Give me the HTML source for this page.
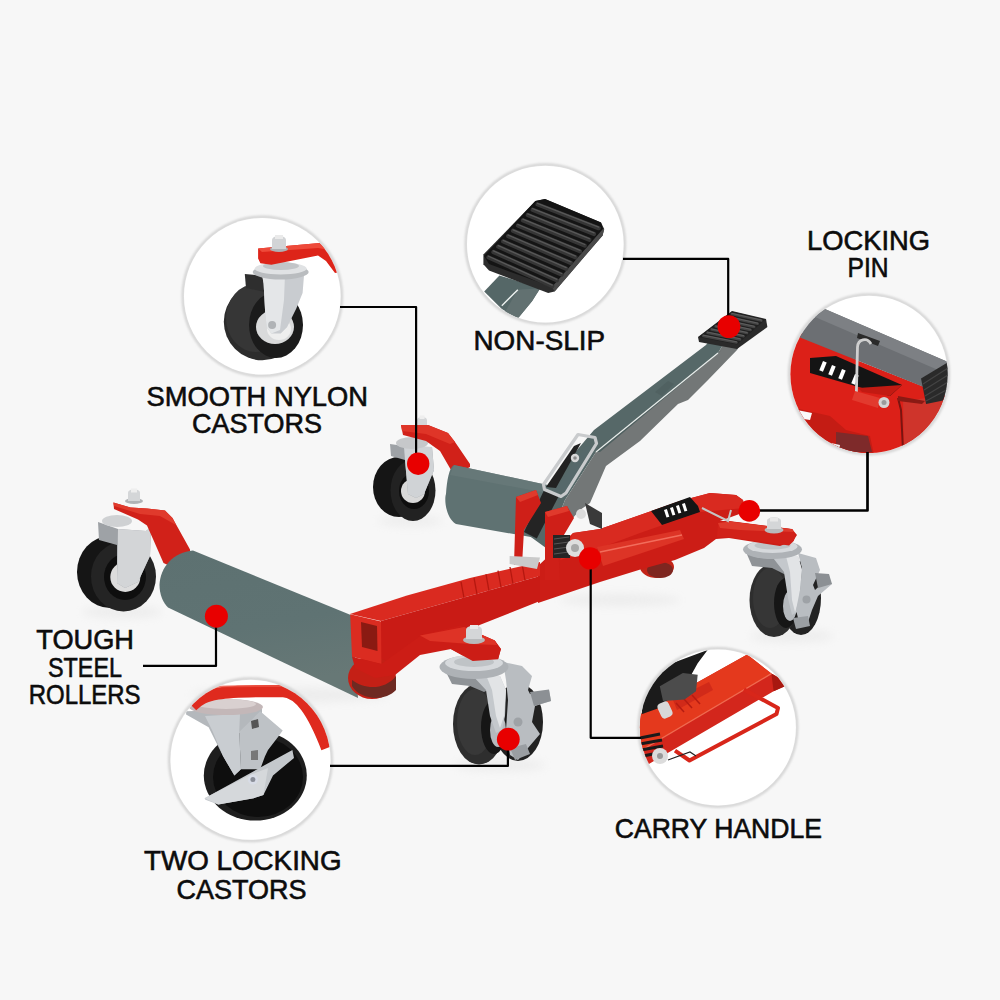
<!DOCTYPE html>
<html><head><meta charset="utf-8">
<style>
html,body{margin:0;padding:0;background:#f7f7f7;}
body{width:1000px;height:1000px;position:relative;overflow:hidden;font-family:"Liberation Sans",sans-serif;}
svg{position:absolute;left:0;top:0;}
</style></head><body>
<svg width="1000" height="1000" viewBox="0 0 1000 1000">
<defs>
<filter id="bl1" x="-20%" y="-20%" width="140%" height="140%"><feGaussianBlur stdDeviation="1.2"/></filter>
<filter id="sh" x="-20%" y="-20%" width="140%" height="140%"><feGaussianBlur stdDeviation="3"/></filter>
<filter id="bl2" x="-30%" y="-30%" width="160%" height="160%"><feGaussianBlur stdDeviation="2"/></filter>
<filter id="bl5" x="-50%" y="-50%" width="200%" height="200%"><feGaussianBlur stdDeviation="5"/></filter>
<clipPath id="c1"><circle cx="262.3" cy="296.3" r="78.3"/></clipPath>
<clipPath id="c2"><circle cx="545.3" cy="244.1" r="78.3"/></clipPath>
<clipPath id="c3"><circle cx="869" cy="374.3" r="78.6"/></clipPath>
<clipPath id="c4"><circle cx="250.5" cy="759.8" r="80"/></clipPath>
<clipPath id="c5"><circle cx="717.9" cy="727.5" r="78"/></clipPath>
<linearGradient id="rollF" x1="0" y1="0" x2="0.25" y2="1">
<stop offset="0" stop-color="#5d7171"/><stop offset="0.6" stop-color="#5f7373"/><stop offset="1" stop-color="#677876"/>
</linearGradient>
</defs>

<!-- ========== PRODUCT ========== -->
<g id="product">
<!-- ground shadows -->
<g fill="#d8d8d8" filter="url(#bl5)" opacity="0.35">
<ellipse cx="122" cy="612" rx="40" ry="6"/>
<ellipse cx="410" cy="521" rx="32" ry="5"/>
<ellipse cx="792" cy="636" rx="42" ry="6"/>
<ellipse cx="500" cy="765" rx="45" ry="6"/>
<ellipse cx="290" cy="695" rx="100" ry="7"/>
<ellipse cx="620" cy="600" rx="60" ry="6"/>
</g>

<!-- back-left castor -->
<g>
<ellipse cx="399" cy="487" rx="26" ry="30" fill="#151515"/>
<ellipse cx="413" cy="490.5" rx="22.5" ry="30.5" fill="#222"/>
<ellipse cx="414" cy="491" rx="15" ry="18" fill="#0e0e0e"/>
<circle cx="413" cy="491" r="12" fill="#d8d8d8"/>
<circle cx="413" cy="491" r="2.5" fill="#999"/>
<polygon points="390,444 404,446 432,447 434,470 424,494 416,498 408,494 405,460 391,456" fill="#9ea2a6"/>
<polygon points="404,447 432,447 434,470 424,494 416,498 408,494 405,460" fill="#d0d3d6"/>
<ellipse cx="412" cy="443" rx="16" ry="6" fill="#c6c8ca"/>
<ellipse cx="422" cy="427" rx="7.5" ry="2.5" fill="#b0b3b6"/><path d="M417,427 L417,420 C417,416 427,416 427,420 L427,427 Z" fill="#d4d6d8"/><rect x="419.5" y="415.5" width="5" height="3.5" fill="#eeeeee"/>
<polygon points="401,425 428,425 448,433 455,442 470,464 470,467 455,475 451,470 440,451 426,441 403,435" fill="#d12119"/>
<polygon points="401,425 428,425 448,433 455,442 450,444 426,434 402,431" fill="#df3528"/>
</g>

<!-- back roller -->
<path d="M454,465 L552,486 L548,540 L456,524 C446,518 444,500 446,494 C447,480 449,468 454,465 Z" fill="#5f7272"/>
<path d="M454,465 L552,486 L552,494 L450,475 Z" fill="#6a7b7b" opacity="0.7"/>

<!-- right castor (locking) -->
<g>
<ellipse cx="801" cy="598" rx="20" ry="37" fill="#222"/>
<ellipse cx="774" cy="600" rx="24.5" ry="37" fill="#2e2e2e"/>
<ellipse cx="770" cy="598" rx="17" ry="30" fill="#363636"/>
<ellipse cx="786" cy="603" rx="12" ry="25" fill="#161616"/>
<ellipse cx="790" cy="606" rx="7" ry="15" fill="#b5b9bd"/>
<polygon points="746,552 770,556 786,558 790,572 786,575 772,568 752,566" fill="#8f9397"/>
<polygon points="770,554 798,556 802,570 800,600 797,612 792,615 788,598 784,572" fill="#c4c8cc"/>
<polygon points="786,556 798,556 802,570 799,600 795,612 792,600 790,572" fill="#e2e4e6"/>
<polygon points="798,553 816,558 820,570 813,585 815,590 828,578 832,584 818,596 812,610 808,622 800,626 796,610 800,590 802,568" fill="#b9bdc1"/>
<polygon points="815,573 829,574 832,584 818,588" fill="#8c9094"/>
<polygon points="793,618 808,616 810,626 796,629" fill="#9a9ea2"/>
<circle cx="806.5" cy="599.5" r="4" fill="#9ea2a6"/>
<ellipse cx="772.5" cy="549.5" rx="29.5" ry="9.5" fill="#aeb2b6"/>
<ellipse cx="772.5" cy="546.5" rx="25" ry="6.5" fill="#d6d9dc"/>
<ellipse cx="772.5" cy="545.5" rx="18" ry="4" fill="#bfc3c6"/>
</g>

<!-- rear roller end under frame -->
<ellipse cx="657" cy="567" rx="17" ry="11" fill="#c42418"/>
<ellipse cx="660" cy="570" rx="13" ry="8" fill="#7e2620"/>

<!-- red body: beam + sleeve + rear crossbar -->
<g>
<!-- sleeve + rear body base -->
<polygon points="538,566 573,533 600,529 680,501 710,493 736,495 743,500 745,512 720,521 729,521 792,529 797,535 793,541 780,546 729,538 716,539 704,548 675,560 642,569 600,582 538,603" fill="#cc1d16"/>
<!-- sleeve top face -->
<polygon points="573,533 600,529 680,501 710,493 736,495 743,500 745,508 700,512 640,533 600,548 560,560" fill="#d92a20"/>
<!-- carry handle bar -->
<polygon points="597,547 680,530 684,539 603,566" fill="#dd3426"/>
<line x1="600" y1="552" x2="682" y2="535" stroke="#f26d5c" stroke-width="1.5"/>
<!-- castor plate -->
<polygon points="718,523 730,521.5 792.4,529.3 795.7,535.8 793.7,541 789,545.5 730,537.5 717,537" fill="#d12119"/>
<polygon points="718,523 730,521.5 792.4,529.3 794,532 740,530 720,528" fill="#df3a2c"/>
<!-- beam top face -->
<polygon points="350,614 407,595.6 470,578 540,562 540,576 381,621" fill="#da2a20"/>
<g stroke="#b5180f" stroke-width="1.3"><line x1="461" y1="581.7" x2="464" y2="597.9"/><line x1="474" y1="577.8" x2="477" y2="594.2"/><line x1="486" y1="574.2" x2="489" y2="590.8"/><line x1="498" y1="570.6" x2="501" y2="587.4"/><line x1="510" y1="567.0" x2="513" y2="584.0"/><line x1="522" y1="563.4" x2="525" y2="580.6"/></g>
<!-- beam front face -->
<polygon points="381,621 540,576 540,601 381,664" fill="#c91b15"/>
<!-- T-REX label -->
<polygon points="651,511 690,497 698,506 700,512 662,525" fill="#151515"/>
<g fill="#fff"><rect x="664" y="510" width="3" height="8" transform="rotate(-18 664 510)"/><rect x="670" y="508" width="3" height="8" transform="rotate(-18 670 508)"/><rect x="676" y="506" width="3" height="8" transform="rotate(-18 676 506)"/><rect x="682" y="504" width="3" height="8" transform="rotate(-18 682 504)"/></g>
<ellipse cx="774" cy="530" rx="9.5" ry="3.5" fill="#b8babc"/><path d="M767,529 L767,521 C767,516 781,516 781,521 L781,529 Z" fill="#d4d6d8"/><rect x="770" y="517.5" width="8" height="4" fill="#e8e8e8"/>
<path d="M702,508 L728,521 L731,510" fill="none" stroke="#c4c4c4" stroke-width="2"/>
</g>

<!-- handle arm -->
<g>
<polygon points="712,337 724,343 718,353 596,452 565,500 546,548 524,532 545,488 594,430 706,345" fill="#566868"/>
<polygon points="724,343 742,342 737,350 708,380 688,400 678,404 640,441 606,466 590,503 580,510 546,548 565,500 596,452 718,353" fill="#737777"/>
<polygon points="718,353 722,350 600,452 596,452" fill="#4e5f5f"/>
<polyline points="718,353 596,452" stroke="#e8ecea" stroke-width="1.2" fill="none"/>
<polygon points="655,392 668,381 674,384 662,396" fill="#4e5e5e" opacity="0.7"/>
</g>
<!-- pedal -->
<g>
<polygon points="698,337 732,311 766,319 767.4,327 737,349 699,342" fill="#2a2a2a"/>
<polygon points="698.5,337 732,311.5 765.5,319.5 737,344.5" fill="#202020"/>
<line x1="731.9" y1="314.0" x2="761.3" y2="320.6" stroke="#444444" stroke-width="2.6" stroke-linecap="round"/>
<line x1="731.9" y1="313.4" x2="761.3" y2="320.0" stroke="#666666" stroke-width="0.78" stroke-linecap="round"/>
<line x1="727.8" y1="317.1" x2="757.7" y2="323.7" stroke="#444444" stroke-width="2.6" stroke-linecap="round"/>
<line x1="727.8" y1="316.5" x2="757.7" y2="323.1" stroke="#666666" stroke-width="0.78" stroke-linecap="round"/>
<line x1="723.8" y1="320.3" x2="754.2" y2="326.9" stroke="#444444" stroke-width="2.6" stroke-linecap="round"/>
<line x1="723.8" y1="319.6" x2="754.2" y2="326.2" stroke="#666666" stroke-width="0.78" stroke-linecap="round"/>
<line x1="719.7" y1="323.4" x2="750.6" y2="330.0" stroke="#444444" stroke-width="2.6" stroke-linecap="round"/>
<line x1="719.7" y1="322.7" x2="750.6" y2="329.3" stroke="#666666" stroke-width="0.78" stroke-linecap="round"/>
<line x1="715.6" y1="326.5" x2="747.1" y2="333.1" stroke="#444444" stroke-width="2.6" stroke-linecap="round"/>
<line x1="715.6" y1="325.9" x2="747.1" y2="332.5" stroke="#666666" stroke-width="0.78" stroke-linecap="round"/>
<line x1="711.5" y1="329.6" x2="743.6" y2="336.2" stroke="#444444" stroke-width="2.6" stroke-linecap="round"/>
<line x1="711.5" y1="329.0" x2="743.6" y2="335.6" stroke="#666666" stroke-width="0.78" stroke-linecap="round"/>
<line x1="707.4" y1="332.8" x2="740.0" y2="339.4" stroke="#444444" stroke-width="2.6" stroke-linecap="round"/>
<line x1="707.4" y1="332.1" x2="740.0" y2="338.7" stroke="#666666" stroke-width="0.78" stroke-linecap="round"/>
<line x1="703.3" y1="335.9" x2="736.5" y2="342.5" stroke="#444444" stroke-width="2.6" stroke-linecap="round"/>
<line x1="703.3" y1="335.2" x2="736.5" y2="341.8" stroke="#666666" stroke-width="0.78" stroke-linecap="round"/>
</g>

<!-- pivot -->
<g>
<polygon points="544.8,488.8 559.2,495.2 536.8,538.4 524,532" fill="#242424"/>
<polygon points="552,492 562,480 585,447 592,446 566,492" fill="#56686a"/>
<polygon points="546,487 574,446 581,443 556,488" fill="#222"/>
<path d="M578,434.5 L595,437.5 L596.5,443.5 L566,493 L561,496.5 L544.5,489.5 L543.5,484.5 Z" fill="none" stroke="#c9cbcd" stroke-width="3.2" stroke-linejoin="round"/>
<circle cx="575" cy="458" r="4.2" fill="#d8d8d8"/>
<circle cx="575" cy="458" r="1.8" fill="#8a8a8a"/>
<polygon points="516,497 536,490 541,503 524,530 522,565 514,565" fill="#cf1f18"/>
<polygon points="516,497 536,490 538,495 520,502" fill="#e03a2c"/>
<polygon points="545,512 567,506 574,518 558,545 560,580 545,580" fill="#cf1f18"/>
<polygon points="545,512 567,506 569,511 548,517" fill="#e03a2c"/>
<polygon points="585,503 602,513 602,529 590,524" fill="#3a3a3a"/>
<circle cx="581" cy="514" r="5" fill="#dcdcdc"/>
<rect x="553" y="535" width="17" height="23" fill="#262626"/>
<g stroke="#555" stroke-width="1"><line x1="554" y1="539" x2="569" y2="537"/><line x1="554" y1="544" x2="569" y2="542"/><line x1="554" y1="549" x2="569" y2="547"/><line x1="554" y1="554" x2="569" y2="552"/></g>
<circle cx="575" cy="548" r="9" fill="#dedede"/>
<circle cx="575" cy="548" r="4" fill="#a8a8a8"/>
<polygon points="509.6,556 540,557.6 537,569 509.6,564" fill="#cacaca"/>
</g>

<!-- front-left castor -->
<g>
<ellipse cx="110" cy="572" rx="33" ry="36" fill="#151515"/>
<ellipse cx="123.5" cy="576.5" rx="32.5" ry="35" fill="#242424"/>
<ellipse cx="125" cy="577" rx="21" ry="23" fill="#0e0e0e"/>
<circle cx="125.3" cy="577" r="15" fill="#dcdcdc"/>
<circle cx="125.3" cy="577" r="3" fill="#999"/>
<polygon points="98,522 118,529 146,531 151,527 150,556 138,582 125,588 117,583 117,545 99,540" fill="#9ea2a6"/>
<polygon points="118,529 146,531 151,527 150,556 138,582 125,588 117,583" fill="#d3d5d7"/>
<ellipse cx="117" cy="521" rx="15" ry="6" fill="#cfd1d3"/>
<ellipse cx="134" cy="501" rx="9" ry="3" fill="#b0b3b6"/><path d="M128,501 L128,493 C128,488 140,488 140,493 L140,501 Z" fill="#d4d6d8"/><rect x="131" y="488.5" width="6" height="4" fill="#eeeeee"/>
<polygon points="113.4,502.4 130.5,507.5 147,508.4 165,510.5 172.5,518 190,549.5 190,553 170,566 163.5,563 153,539 147,525.5 138,519.5 114,509" fill="#d12119"/>
<polygon points="113.4,502.4 130.5,507.5 147,508.4 165,510.5 172.5,518 176,525 160,516 140,514 114,506" fill="#e03a2c"/>
</g>

<!-- front roller -->
<path d="M193,550.5 L352,615.5 L358,698 L168,607.5 C163,603 159.5,594 159.5,585 C160,567 174,552 193,550.5 Z" fill="url(#rollF)"/>
<!-- roller end plate -->
<ellipse cx="372" cy="678" rx="24" ry="21" fill="#c42016"/>
<path d="M352,686 C360,700 385,702 396,690 L396,676 C385,690 365,690 352,680 Z" fill="#6e2a22"/>
<!-- beam end face -->
<polygon points="350.2,614.2 381,621.4 381.4,664 352,656.8" fill="#db2c21"/>
<polygon points="361,622 377,626 377.5,651 362,647" fill="#8a1a12"/>
<!-- castor arm under beam -->
<polygon points="352,656.8 381.4,664 421.6,635 460,625.6 495,641 501,649 498,659 473,661 451,649 420,655 395,675 375,678 355,668" fill="#cc1d16"/>

<!-- front-right castor -->
<g>
<ellipse cx="518" cy="722" rx="25" ry="39" fill="#222"/>
<ellipse cx="479" cy="724" rx="26" ry="40.5" fill="#2e2e2e"/>
<ellipse cx="475" cy="722" rx="18" ry="33" fill="#383838"/>
<ellipse cx="494" cy="727" rx="13" ry="27" fill="#161616"/>
<ellipse cx="498" cy="730" rx="8" ry="17" fill="#b5b9bd"/>
<polygon points="445.5,671 470,676 486,678 488,690 484,692 470,686 452,684" fill="#8f9397"/>
<polygon points="470,673 500,676 506,690 505,716 502,730 496,733 490,716 486,690" fill="#c4c8cc"/>
<polygon points="486,675 500,676 506,690 504,716 500,728 496,716 492,690" fill="#e2e4e6"/>
<polygon points="503,662 522,666 532,676 528,690 530,694 549,690 551,701 535,706 532,722 540,734 528,748 518,760 510,755 506,730 508,700 506,680" fill="#b9bdc1"/>
<polygon points="530,692 549,689.5 551,701 534,706" fill="#8c9094"/>
<polygon points="510,748 526,744 530,754 515,760" fill="#9a9ea2"/>
<circle cx="518" cy="722" r="4.5" fill="#9ea2a6"/>
<ellipse cx="474" cy="667" rx="34.5" ry="12" fill="#aeb2b6"/>
<ellipse cx="474" cy="663" rx="29" ry="8" fill="#d6d9dc"/>
<ellipse cx="474" cy="662" rx="20" ry="5" fill="#bfc3c6"/>
<polygon points="420,635.5 464.2,627 494.8,640.6 500.8,649 498.2,659.3 472.7,661 450.6,649 420,649" fill="#cc1d16"/>
<polygon points="420,635.5 464.2,627 494.8,640.6 497,645 470,644 430,641" fill="#de3326"/>
<ellipse cx="474" cy="640" rx="11" ry="4" fill="#b8babc"/>
<path d="M466,639 L466,630 C466,624 482,624 482,630 L482,639 Z" fill="#d4d6d8"/>
<rect x="470" y="625" width="8" height="4" fill="#eaeaea"/>
</g>
</g>

<!-- ========== CIRCLES ========== -->
<g fill="none" stroke="#d4d4d4" stroke-width="3" filter="url(#bl1)">
<circle cx="262.3" cy="296.3" r="79.3"/>
<circle cx="545.3" cy="244.1" r="79.3"/>
<circle cx="869" cy="374.3" r="79.6"/>
<circle cx="250.5" cy="759.8" r="81"/>
<circle cx="717.9" cy="727.5" r="79"/>
</g>
<g fill="#fff">
<circle cx="262.3" cy="296.3" r="78.3"/>
<circle cx="545.3" cy="244.1" r="78.3"/>
<circle cx="869" cy="374.3" r="78.6"/>
<circle cx="250.5" cy="759.8" r="80"/>
<circle cx="717.9" cy="727.5" r="78"/>
</g>

<!-- circle 1: nylon castor -->
<g clip-path="url(#c1)">
<ellipse cx="262.4" cy="321.7" rx="38.6" ry="38.6" fill="#2c2c2c"/>
<ellipse cx="256" cy="318" rx="30" ry="34" fill="#363636"/>
<ellipse cx="276" cy="325" rx="27" ry="33" fill="#1b1b1b"/>
<ellipse cx="275" cy="327" rx="19" ry="17" fill="#d9dadb"/>
<ellipse cx="279" cy="329" rx="12" ry="11" fill="#eeeeee"/>
<polygon points="244.8,274 265,276 265,292 246,288" fill="#2e2e2e"/>
<polygon points="262,274.2 304.1,274.2 302.6,292.9 296.3,308.5 287,327.2 280.7,333.4 271.4,333.4 266.7,327.2 265.1,311.6 263.6,283.5" fill="#c9ccd0"/>
<polygon points="262,274.2 285,274.2 284,300 280,330 271.4,333.4 266.7,327.2 265.1,311.6 263.6,283.5" fill="#e4e6e8"/>
<circle cx="272.1" cy="324.9" r="4" fill="#b0b3b6"/>
<ellipse cx="280.7" cy="272" rx="28" ry="7.5" fill="#b9bcbf"/>
<ellipse cx="280.7" cy="268.5" rx="26" ry="6" fill="#e0e2e4"/>
<ellipse cx="281" cy="266" rx="18" ry="4" fill="#c2c5c8"/>
<polygon points="258.1,248.4 319.7,243 327,246 334,256 340,272 335,273 326,261 318,255.5 271.4,264.8 260.4,263.2 258.1,258.6" fill="#dd2419"/>
<polygon points="258.1,248.4 319.7,243 327,246 330,250 318,248 262,252" fill="#ee4a3a"/>
<ellipse cx="279" cy="249" rx="9" ry="3" fill="#aeb1b4"/>
<path d="M272,249 L272,240 C272,234.5 286,234.5 286,240 L286,249 Z" fill="#d2d4d6"/>
<rect x="275" y="235" width="8" height="4" fill="#eaeaea"/>
</g>

<!-- circle 2: pedal -->
<g clip-path="url(#c2)">
<polygon points="484.2,291.4 499.4,275.4 540.2,288.2 532.2,301 517.8,318.6 501.8,309" fill="#556767"/>
<polygon points="517.8,289.8 540.2,288.2 532.2,301 517.8,318.6 505,312" fill="#627171"/>
<line x1="517.8" y1="289.8" x2="501.8" y2="305.8" stroke="#f0f4f2" stroke-width="1.4"/>
<path d="M535.4,201 L545,198.9 L601,222.6 L604.2,229 L602.6,235.4 L554.6,291.4 L548.2,293 L489,270.6 L483.4,264.2 L483.4,254.6 Z" fill="#2c2c2c"/>
<path d="M535.4,201 L545,198.9 L601,222.6 L603,229 L552,287 L489,264 L484,256 Z" fill="#141414"/>
<polygon points="603,229 604.2,229 602.6,235.4 554.6,291.4 552,287" fill="#4a4a4a"/>
<line x1="537.5" y1="204.4" x2="598.7" y2="228.2" stroke="#363636" stroke-width="4.2" stroke-linecap="round"/>
<line x1="537.5" y1="203.3" x2="598.7" y2="227.1" stroke="#585858" stroke-width="1.26" stroke-linecap="round"/>
<line x1="532.6" y1="209.7" x2="594.1" y2="234.0" stroke="#363636" stroke-width="4.2" stroke-linecap="round"/>
<line x1="532.6" y1="208.6" x2="594.1" y2="232.9" stroke="#585858" stroke-width="1.26" stroke-linecap="round"/>
<line x1="527.7" y1="215.0" x2="589.4" y2="239.8" stroke="#363636" stroke-width="4.2" stroke-linecap="round"/>
<line x1="527.7" y1="213.9" x2="589.4" y2="238.7" stroke="#585858" stroke-width="1.26" stroke-linecap="round"/>
<line x1="522.8" y1="220.3" x2="584.8" y2="245.6" stroke="#363636" stroke-width="4.2" stroke-linecap="round"/>
<line x1="522.8" y1="219.2" x2="584.8" y2="244.5" stroke="#585858" stroke-width="1.26" stroke-linecap="round"/>
<line x1="517.9" y1="225.6" x2="580.1" y2="251.4" stroke="#363636" stroke-width="4.2" stroke-linecap="round"/>
<line x1="517.9" y1="224.5" x2="580.1" y2="250.3" stroke="#585858" stroke-width="1.26" stroke-linecap="round"/>
<line x1="513.0" y1="230.8" x2="575.5" y2="257.2" stroke="#363636" stroke-width="4.2" stroke-linecap="round"/>
<line x1="513.0" y1="229.8" x2="575.5" y2="256.1" stroke="#585858" stroke-width="1.26" stroke-linecap="round"/>
<line x1="508.1" y1="236.1" x2="570.9" y2="263.0" stroke="#363636" stroke-width="4.2" stroke-linecap="round"/>
<line x1="508.1" y1="235.1" x2="570.9" y2="261.9" stroke="#585858" stroke-width="1.26" stroke-linecap="round"/>
<line x1="503.2" y1="241.4" x2="566.2" y2="268.8" stroke="#363636" stroke-width="4.2" stroke-linecap="round"/>
<line x1="503.2" y1="240.4" x2="566.2" y2="267.7" stroke="#585858" stroke-width="1.26" stroke-linecap="round"/>
<line x1="498.3" y1="246.7" x2="561.6" y2="274.6" stroke="#363636" stroke-width="4.2" stroke-linecap="round"/>
<line x1="498.3" y1="245.7" x2="561.6" y2="273.5" stroke="#585858" stroke-width="1.26" stroke-linecap="round"/>
<line x1="493.4" y1="252.0" x2="556.9" y2="280.4" stroke="#363636" stroke-width="4.2" stroke-linecap="round"/>
<line x1="493.4" y1="250.9" x2="556.9" y2="279.3" stroke="#585858" stroke-width="1.26" stroke-linecap="round"/>
<line x1="488.5" y1="257.3" x2="552.3" y2="286.2" stroke="#363636" stroke-width="4.2" stroke-linecap="round"/>
<line x1="488.5" y1="256.2" x2="552.3" y2="285.1" stroke="#585858" stroke-width="1.26" stroke-linecap="round"/>
</g>

<!-- circle 3: locking pin -->
<g clip-path="url(#c3)">
<polygon points="780,322 860,361.4 950,397 950,460 780,460" fill="#dc2018"/>
<polygon points="903,401 950,395 950,455 904,455" fill="#cf342b"/>
<polyline points="898,398 901,410 903,450" fill="none" stroke="#7a1410" stroke-width="2"/>
<polygon points="898,396 925,401 922,404 898,401" fill="#8a1a14"/>
<polygon points="795,408 830,416 846,430 870,436 874,455 790,455" fill="#c41c14"/>
<polygon points="836,432 868,436 872,452 836,452" fill="#7e2a2a"/>
<polygon points="797,410 812,413 810,420 797,418" fill="#fafafa"/>
<polygon points="822,441 840,445 838,455 822,455" fill="#f2f2f2"/>
<polygon points="810,358 836,356 902,385 890,396 810,373" fill="#141414"/>
<polygon points="858,388 902,385 890,396 862,392" fill="#c21a12"/>
<g fill="#fff"><rect x="823" y="361" width="4" height="10" transform="rotate(22 823 361)"/><rect x="832" y="365" width="4" height="10" transform="rotate(22 832 365)"/><rect x="842" y="369" width="4" height="10" transform="rotate(22 842 369)"/><rect x="855" y="374" width="4" height="10" transform="rotate(22 855 374)"/></g>
<polygon points="780,289.7 950,362.8 950,397.5 780,329.5" fill="#6c6f73"/>
<polygon points="780,289.7 950,362.8 950,375 780,302" fill="#7d8084"/>
<polygon points="858,333 880,341 878,346 857,338" fill="#2a2a2a"/>
<polygon points="921,378.4 950,361 950,399 926.1,404" fill="#2a2a2a"/>
<g stroke="#444" stroke-width="1.2"><line x1="923" y1="384" x2="948" y2="368"/><line x1="924" y1="390" x2="948" y2="375"/><line x1="925" y1="396" x2="948" y2="382"/><line x1="926" y1="401" x2="948" y2="389"/></g>
<path d="M856.4,392 L857.5,347 C858,339 867,337 871,344" fill="none" stroke="#cfcfcf" stroke-width="2.8"/>
<polygon points="855,391 880,398 878,408 852,400" fill="#e23a2e"/>
<circle cx="884" cy="402.5" r="5.5" fill="#d4d4d4"/>
<circle cx="884" cy="402.5" r="2.5" fill="#9a9a9a"/>
</g>

<!-- circle 4: locking castor -->
<g clip-path="url(#c4)">
<ellipse cx="255.3" cy="775.6" rx="51.5" ry="45" fill="#1e1e1e"/>
<ellipse cx="258" cy="777" rx="45" ry="40" fill="#0e0e0e"/>
<polygon points="186.1,711.2 262,709 262,729 239.2,732.1 240.9,769.2 234.4,775.6 223.1,756.3 208.6,727.3 186.1,714.4" fill="#b4b8bc"/>
<polygon points="205,716 240,714 239.2,732.1 240.9,769.2 234.4,775.6 223.1,756.3 212,730" fill="#c9cdd1"/>
<polygon points="239.2,732.1 260.2,711.2 282.7,730.5 278,737 268,750 265,756.3 260.2,769.2 240.9,769.2" fill="#bec2c6"/>
<polygon points="251,721 258,719 259,727 252,729" fill="#555"/>
<polygon points="251,751 258,750 258,760 251,760" fill="#777"/>
<polygon points="204.6,798.2 292.4,749.9 294,757.9 273,775.6 263.4,795 253.7,798.2 218.3,804.6 205.4,799.8" fill="#c4c8cc"/>
<polygon points="204.6,798.2 250,775 268,768 263.4,795 253.7,798.2 218.3,804.6" fill="#d5d8db"/>
<circle cx="252.9" cy="779.6" r="5" fill="#d8dce6"/>
<circle cx="252.9" cy="779.6" r="2.5" fill="#8a8e98"/>
<ellipse cx="226" cy="707" rx="37" ry="8" fill="#c3b7b8"/>
<ellipse cx="226" cy="704" rx="30" ry="5" fill="#d9d0d0"/>
<path d="M192,706 C205,693 218,691 282,691 C300,692 313,712 327,748" fill="none" stroke="#df2a1e" stroke-width="12"/>
<path d="M205,689 C215,686 230,686 282,686" fill="none" stroke="#ec5040" stroke-width="2" opacity="0.8"/>
</g>

<!-- circle 5: carry handle -->
<g clip-path="url(#c5)">
<polygon points="630,720 747.2,654.4 771.4,673.6 790,684 773.6,691.2 630,775" fill="#d3261c"/>
<polygon points="630,720 747.2,654.4 771.4,673.6 630,757" fill="#e4391d"/>
<polygon points="771.4,673.6 790,684 773.6,691.2" fill="#a81810"/>
<line x1="630" y1="757" x2="771.4" y2="673.6" stroke="#ef6a50" stroke-width="1.3"/>
<polygon points="673,700 709,682 713,690 677,710" fill="#c92418" opacity="0.7"/>
<g stroke="#b51c12" stroke-width="1.5"><line x1="676" y1="703" x2="684" y2="712"/><line x1="684" y1="699" x2="692" y2="708"/><line x1="692" y1="695" x2="700" y2="704"/></g>
<path d="M744,689.6 L778,708 L776.5,714 L689.5,760.5 L675,750.6" fill="none" stroke="#d8261a" stroke-width="4" stroke-linejoin="round"/>
<polygon points="641.6,714.3 644.9,686.3 668,664.8 707.6,650 697.7,663.2 689.5,678 684.5,686.3 668,699.5 659.8,707.7" fill="#1b1b1b"/>
<polygon points="659.8,686.3 682.9,673 697.7,674.7 696,691.2 684.5,699.5 663,701" fill="#4c4c4c"/>
<rect x="659" y="702" width="12" height="16" rx="4" fill="#d8d8d8" transform="rotate(-25 665 710)"/>
<g stroke="#1a1a1a" stroke-width="3"><line x1="640" y1="738" x2="660" y2="734"/><line x1="640" y1="744" x2="662" y2="740"/><line x1="641" y1="750" x2="663" y2="746"/><line x1="643" y1="756" x2="663" y2="752"/></g>
<circle cx="660" cy="756" r="8" fill="#dcdcdc"/>
<circle cx="660" cy="756" r="3" fill="#999"/>
<path d="M668,760 L690,752 L696,756" fill="none" stroke="#222" stroke-width="1.2"/>
</g>

<!-- lines -->
<g fill="none" stroke="#000" stroke-width="2.2" stroke-linejoin="round">
<polyline points="340,307 416.1,307 416.1,460"/>
<polyline points="623,258.9 728.2,258.9 728.2,322"/>
<polyline points="867.5,452 867.5,510.5 755,510.5" stroke-width="2.7"/>
<polyline points="143,665.9 216,665.9 216,620"/>
<polyline points="330,765.9 507.9,765.9 507.9,745"/>
<polyline points="590.7,562 590.7,737.8 641,737.8"/>
</g>
<!-- dots -->
<g fill="#e80000">
<circle cx="418.2" cy="463.7" r="11.2"/>
<circle cx="728.9" cy="326.6" r="11.4"/>
<circle cx="749.3" cy="510.9" r="10.8"/>
<circle cx="216.4" cy="616.2" r="11.5"/>
<circle cx="508.3" cy="739.2" r="11.4"/>
<circle cx="590" cy="558.4" r="11.1"/>
</g>

<!-- text -->
<g font-family="Liberation Sans" font-size="28" fill="#0c0c0c" stroke="#0c0c0c" stroke-width="0.6">
<text x="146.50" y="406.00" textLength="221.52" lengthAdjust="spacingAndGlyphs">SMOOTH NYLON</text>
<text x="192.00" y="433.00" textLength="130.02" lengthAdjust="spacingAndGlyphs">CASTORS</text>
<text x="473.50" y="350.00" textLength="131.52" lengthAdjust="spacingAndGlyphs">NON-SLIP</text>
<text x="807.00" y="250.00" textLength="123.06" lengthAdjust="spacingAndGlyphs">LOCKING</text>
<text x="847.50" y="277.00" textLength="41.07" lengthAdjust="spacingAndGlyphs">PIN</text>
<text x="36.25" y="649.00" textLength="97.76" lengthAdjust="spacingAndGlyphs">TOUGH</text>
<text x="48.00" y="677.00" textLength="74.01" lengthAdjust="spacingAndGlyphs">STEEL</text>
<text x="28.75" y="704.00" textLength="111.77" lengthAdjust="spacingAndGlyphs">ROLLERS</text>
<text x="144.00" y="870.00" textLength="197.51" lengthAdjust="spacingAndGlyphs">TWO LOCKING</text>
<text x="176.50" y="898.50" textLength="130.02" lengthAdjust="spacingAndGlyphs">CASTORS</text>
<text x="614.75" y="838.00" textLength="207.26" lengthAdjust="spacingAndGlyphs">CARRY HANDLE</text>
</g>
</svg>
</body></html>
